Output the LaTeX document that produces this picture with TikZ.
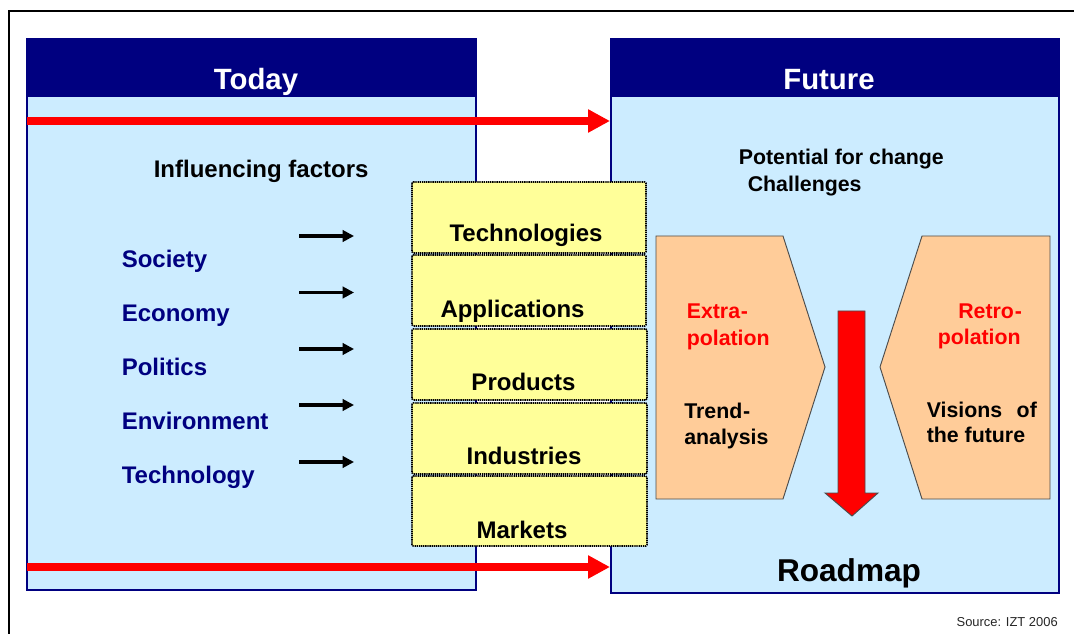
\documentclass[tikz,border=0pt]{standalone}
\usepackage{fontspec}
\setmainfont{Liberation Sans}
\usetikzlibrary{arrows.meta}
\definecolor{navy}{RGB}{0,0,128}
\definecolor{panelblue}{RGB}{204,236,255}
\definecolor{padyellow}{RGB}{255,255,153}
\definecolor{peach}{RGB}{255,204,153}
\tikzset{
  x=0.75pt,y=-0.75pt,
  panel/.style={draw=navy,fill=panelblue,line width=1.6pt,inner sep=0pt},
  header/.style={fill=none,text=white,font=\bfseries\fontsize{22}{24}\selectfont,inner sep=0pt,anchor=base},
  heading/.style={font=\bfseries\fontsize{18}{20}\selectfont,anchor=base west,inner sep=0pt,text=black},
  factor/.style={font=\bfseries\fontsize{18}{20}\selectfont,anchor=base west,inner sep=0pt,text=navy},
  small/.style={font=\bfseries\fontsize{16}{20}\selectfont,anchor=base west,inner sep=0pt,text=black},
  redlab/.style={font=\bfseries\fontsize{16}{20}\selectfont,anchor=base west,inner sep=0pt,text=red},
  blacklab/.style={font=\bfseries\fontsize{16}{20}\selectfont,anchor=base west,inner sep=0pt,text=black},
  padbox/.style={draw=black,dash pattern=on 1pt off 0.6pt,fill=padyellow,line width=1.2pt,rounded corners=1pt},
  padtext/.style={font=\bfseries\fontsize{18}{20}\selectfont,inner sep=0pt,text=black,anchor=base},
  peachbox/.style={draw=black!70,fill=peach,line width=0.7pt},
  redarrow/.style={draw=red,line width=6pt,-{Triangle[length=16.5pt,width=16.5pt,fill=red]}},
  blackarrow/.style={draw=black,line width=2.3pt,-{Triangle[length=8.5pt,width=8.5pt]}},
}
\begin{document}
\begin{tikzpicture}
\useasboundingbox (0,0) rectangle (1074,634);
\fill[white] (0,0) rectangle (1074,634);
\draw[black,line width=1.1pt] (9,634) -- (9,11) -- (1074,11);
% panels
\path[panel] (27,39) rectangle (476,590);
\path[panel] (611,39) rectangle (1059,593);
\path[fill=navy] (26,38) rectangle (477,97.5);
\path[fill=navy] (610,38) rectangle (1060,97.5);
\node[header] (today) at (256,90) {Today};
\node[header] (future) at (829,90) {Future};
% texts left
\node[heading] (inf) at (153.5,178) {Influencing factors};
\node[factor] (society) at (121.5,268) {Society};
\node[factor] (economy) at (121.5,322) {Economy};
\node[factor] (politics) at (121.5,376) {Politics};
\node[factor] (env) at (121.5,429.5) {Environment};
\node[factor] (tech) at (121.5,483.5) {Technology};
% black arrows
\foreach \n/\yy in {a/236,b/292.5,c/349,d/405,e/462}{
  \coordinate (\n s) at (299,\yy);
  \coordinate (\n e) at (354,\yy);
  \draw[blackarrow] (\n s) -- (\n e);
}
% yellow
\path[padbox] (412,182) rectangle (646,253);
\path[padbox] (412,255) rectangle (646,326);
\path[padbox] (412,329) rectangle (647,400);
\path[padbox] (412,403) rectangle (647,474);
\path[padbox] (412,476) rectangle (647,546);
\node[padtext] (p1) at (526,242) {Technologies};
\node[padtext] (p2) at (512.5,317.5) {Applications};
\node[padtext] (p3) at (523.5,390) {Products};
\node[padtext] (p4) at (524,464) {Industries};
\node[padtext] (p5) at (522,538.5) {Markets};
% future texts
\node[small] (pot) at (738.5,165) {Potential for change};
\node[small] (ch) at (747.5,192) {Challenges};
% peach
\path[peachbox] (656,236) -- (783,236) -- (825,367) -- (783,499) -- (656,499) -- cycle;
\path[peachbox] (1050,236) -- (922,236) -- (880,367) -- (922,499) -- (1050,499) -- cycle;
\node[redlab] (ex1) at (686.5,319) {Extra\kern0.6pt-};
\node[redlab] (ex2) at (686.5,345.5) {polation};
\node[redlab] (re1) at (958,319) {Retro\kern0.6pt-};
\node[redlab] (re2) at (937.5,344.5) {polation};
\node[blacklab] (tr1) at (684,418.5) {Trend\kern0.6pt-};
\node[blacklab] (tr2) at (684,444) {analysis};
\node[blacklab] (vi1) at (926.5,417) {Visions\hspace{0.4em} of};
\node[blacklab] (vi2) at (926.5,442) {the future};
% down arrow
\path[draw=black!70,fill=red,line width=0.7pt] (838,311) -- (865,311) -- (865,493) -- (878,493) -- (852,516) -- (825,493) -- (838,493) -- cycle;
\node[font=\bfseries\fontsize{23.7}{26}\selectfont,inner sep=0pt,anchor=base] (road) at (849,581.5) {Roadmap};
% red arrows
\coordinate (r1s) at (27,121); \coordinate (r1e) at (610,121);
\coordinate (r2s) at (27,567); \coordinate (r2e) at (610,567);
\draw[redarrow] (r1s) -- (r1e);
\draw[redarrow] (r2s) -- (r2e);
\node[font=\fontsize{9.7}{12}\selectfont,anchor=base east,inner sep=0pt,text=black!85] (src) at (1058,626) {Source: IZT 2006};
\end{tikzpicture}
\end{document}
